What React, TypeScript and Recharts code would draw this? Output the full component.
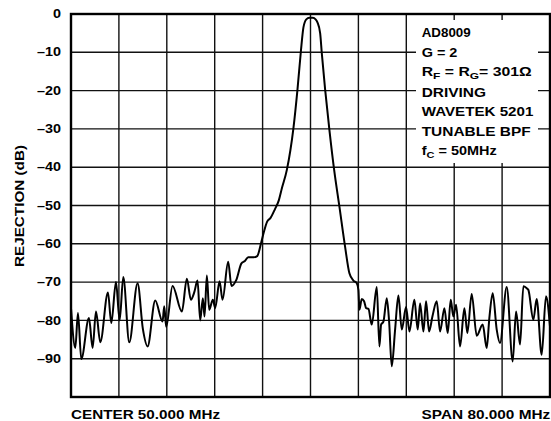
import { LineChart, Line, XAxis, YAxis, CartesianGrid } from 'recharts'

// frequency (MHz) across the 80 MHz span centred on 50 MHz
const freq = [
  10.0, 10.72, 11.16, 11.72, 13.0, 13.61, 14.17, 14.89, 16.17, 16.73,
  17.51, 18.12, 18.73, 19.73, 21.12, 22.01, 22.79, 24.07, 25.29, 25.57,
  25.9, 26.96, 28.52, 29.35, 30.02, 30.58, 31.13, 31.58, 32.02, 32.3,
  32.69, 33.08, 33.69, 34.08, 34.81, 35.31, 36.25, 36.8, 37.59, 38.47,
  39.04, 39.59, 40.54, 41.1, 41.81, 42.2, 42.76, 43.3, 44.05, 44.72,
  45.22, 46.05, 47.15, 47.82, 48.39, 48.82, 49.3, 49.8, 50.4, 50.85,
  51.16, 51.61, 51.89, 52.45, 53.16, 53.95, 54.83, 55.78, 56.5, 57.17,
  57.73, 58.0, 58.17, 58.56, 58.95, 59.29, 59.68, 60.23, 61.07, 61.51,
  61.79, 62.18, 62.74, 63.13, 63.57, 64.13, 64.68, 65.24, 65.96, 66.52,
  67.35, 67.91, 68.3, 68.86, 69.3, 69.8, 70.36, 71.08, 71.64, 72.36,
  72.92, 73.42, 73.86, 74.31, 74.98, 75.7, 76.2, 76.92, 77.76, 78.76,
  79.43, 79.87, 80.43, 81.1, 81.65, 82.77, 83.77, 84.33, 85.0, 85.55,
  86.11, 86.38, 87.22, 87.77, 88.61, 89.33, 90.0,
]

// rejection (dB)
const rejection = [
  -76.8, -87.2, -78.1, -90.1, -79.4, -87.2, -77.7, -85.7, -72.7, -80.7,
  -70.0, -80.0, -68.7, -85.7, -70.3, -82.3, -86.8, -74.8, -80.3, -76.3,
  -81.7, -71.0, -77.7, -69.1, -74.6, -72.7, -69.6, -80.0, -74.2, -79.0,
  -68.3, -77.2, -74.6, -76.8, -69.8, -74.6, -64.7, -71.0, -69.5, -65.1,
  -64.5, -63.5, -63.5, -63.2, -59.4, -57.0, -54.2, -53.3, -51.0, -48.6,
  -45.5, -40.7, -29.8, -19.8, -9.8, -3.5, -1.4, -1.0, -1.0, -1.4,
  -2.2, -5.0, -10.3, -19.8, -30.3, -40.7, -50.3, -60.8, -67.7, -69.6,
  -70.3, -72.0, -77.2, -74.4, -75.0, -76.8, -77.0, -81.1, -71.3, -86.8,
  -81.1, -80.3, -74.2, -80.3, -92.0, -82.4, -73.5, -82.4, -76.5, -82.9,
  -74.6, -82.4, -75.5, -82.9, -75.0, -82.9, -79.0, -75.0, -82.9, -76.8,
  -83.3, -74.6, -79.0, -75.9, -86.8, -76.8, -83.3, -73.1, -84.0, -81.1,
  -87.2, -79.4, -72.9, -82.4, -85.9, -71.3, -90.7, -77.7, -86.3, -71.1,
  -71.6, -72.0, -79.8, -74.4, -89.0, -73.7, -81.6,
]

const freqTicks = [10, 18, 26, 34, 42, 50, 58, 66, 74, 82, 90]
const dbTicks = [0, -10, -20, -30, -40, -50, -60, -70, -80, -90, -100]

const notes = ['AD8009', 'G = 2', 'RF', 'DRIVING', 'WAVETEK 5201', 'TUNABLE BPF', 'fC']

const data = freq.map((f, i) => ({ f, db: rejection[i] }))

const font = "'Liberation Sans', Arial, Helvetica, sans-serif"

const DbTick = (props: any) => {
  const { x, y, payload } = props
  if (payload.value === -100) return null
  const label = payload.value === 0 ? '0' : '\u2013' + Math.abs(payload.value)
  return (
    <text
      x={x}
      y={y}
      textAnchor="end"
      dominantBaseline="central"
      fontFamily={font}
      fontWeight="bold"
      fontSize={12.5}
      fill="#000"
      transform={`translate(${x} ${y}) scale(1.15 1) translate(${-x} ${-y})`}
    >
      {label}
    </text>
  )
}

export default function App() {
  const txt = { fontFamily: font, fontWeight: 'bold' as const, fontSize: 12.5, fill: '#000' }
  return (
    <div style={{ position: 'absolute', left: 0, top: 0, width: 551, height: 421, background: '#fff' }}>
      <LineChart width={551} height={421} data={data} margin={{ top: 14, right: 1, bottom: 24, left: 0 }}>
        <CartesianGrid stroke="#111" strokeWidth={1.4} ticks={undefined} />
        <XAxis dataKey="f" type="number" domain={[10, 90]} ticks={freqTicks} hide />
        <YAxis
          type="number"
          domain={[-100, 0]}
          ticks={dbTicks}
          width={71}
          axisLine={false}
          tickLine={false}
          tickSize={0}
          tickMargin={10}
          tick={<DbTick />}
          interval={0}
        />
        <Line
          type="monotone"
          dataKey="db"
          stroke="#000"
          strokeWidth={2}
          dot={false}
          isAnimationActive={false}
        />
      </LineChart>
      <svg width={551} height={421} style={{ position: 'absolute', left: 0, top: 0, pointerEvents: 'none' }}>
        <rect x={71} y={14} width={479} height={383} fill="none" stroke="#000" strokeWidth={2.4} />
        <rect x={416} y={20} width={122} height={143} fill="#fff" />
        <text {...txt} x={421.7} y={37.2} textLength={49} lengthAdjust="spacingAndGlyphs">{notes[0]}</text>
        <text {...txt} x={421.7} y={56.8} textLength={35.7} lengthAdjust="spacingAndGlyphs">{notes[1]}</text>
        <text {...txt} x={421.7} y={75.5} textLength={110} lengthAdjust="spacingAndGlyphs">
          R<tspan fontSize={9.5} dy={3}>F</tspan>
          <tspan dy={-3}> = R</tspan>
          <tspan fontSize={9.5} dy={3}>G</tspan>
          <tspan dy={-3}>= 301Ω</tspan>
        </text>
        <text {...txt} x={421.7} y={96.5} textLength={64.3} lengthAdjust="spacingAndGlyphs">{notes[3]}</text>
        <text {...txt} x={421.7} y={116.4} textLength={111.7} lengthAdjust="spacingAndGlyphs">{notes[4]}</text>
        <text {...txt} x={421.7} y={136} textLength={109} lengthAdjust="spacingAndGlyphs">{notes[5]}</text>
        <text {...txt} x={421.7} y={155.3} textLength={75} lengthAdjust="spacingAndGlyphs">
          f<tspan fontSize={9.5} dy={3}>C</tspan>
          <tspan dy={-3}> = 50MHz</tspan>
        </text>
        <text {...txt} x={71} y={419} textLength={149} lengthAdjust="spacingAndGlyphs">CENTER 50.000 MHz</text>
        <text {...txt} x={421.6} y={419} textLength={128.6} lengthAdjust="spacingAndGlyphs">SPAN 80.000 MHz</text>
        <text
          {...txt}
          fontSize={13.5}
          x={0}
          y={0}
          textAnchor="middle"
          textLength={122}
          lengthAdjust="spacingAndGlyphs"
          transform="translate(24 206) rotate(-90)"
        >
          REJECTION (dB)
        </text>
      </svg>
    </div>
  )
}
